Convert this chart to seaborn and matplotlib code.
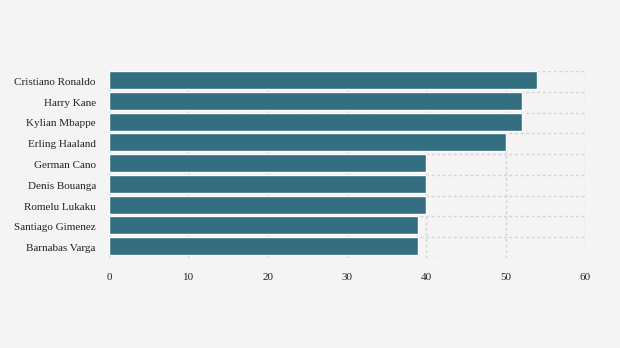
import matplotlib
matplotlib.use("Agg")
import matplotlib.pyplot as plt
import seaborn as sns
import pandas as pd
import numpy as np

players = ["Cristiano Ronaldo", "Harry Kane", "Kylian Mbappe", "Erling Haaland",
           "German Cano", "Denis Bouanga", "Romelu Lukaku", "Santiago Gimenez",
           "Barnabas Varga"]
goals = [54, 52, 52, 50, 40, 40, 40, 39, 39]
xticks = [0, 10, 20, 30, 40, 50, 60]

sns.set_style("white")
plt.rcParams['font.family'] = ['Liberation Serif', 'DejaVu Serif']

df = pd.DataFrame({"player": players, "goals": goals})

fig = plt.figure(figsize=(6.2, 3.48), dpi=100, facecolor="#f4f4f4")
ax = fig.add_axes([109/620, 1-258/348, (585-109)/620, (258-71)/348])
ax.set_facecolor("#f4f4f4")

bw = 0.865
sns.barplot(data=df, x="goals", y="player", orient="h", color="#336f80",
            saturation=1, width=bw, ax=ax, zorder=3)
for p in ax.patches:
    p.set_y(p.get_y() - (1 - bw) / 2)

ax.set_xlim(0, 60)
ax.set_ylim(len(players)-0.5, -0.5)
ax.set_xticks(xticks)
ax.set_xticklabels([str(t) for t in xticks])
ax.set_yticks(np.arange(len(players)))
ax.set_yticks(np.arange(len(players)+1)-0.5, minor=True)
ax.set_xlabel("")
ax.set_ylabel("")

ax.grid(True, axis="x", which="major", color="#d2d2d2", linestyle=(0, (2, 2)), linewidth=1, zorder=0)
ax.grid(True, axis="y", which="minor", color="#d2d2d2", linestyle=(0, (2, 2)), linewidth=1, zorder=0)
ax.grid(False, axis="y", which="major")
for s in ax.spines.values():
    s.set_visible(False)

ax.tick_params(axis="y", which="major", length=5, color="#d6d6d6", pad=4.5, labelsize=8, labelcolor="#222222")
ax.tick_params(axis="y", which="minor", length=0)
ax.tick_params(axis="x", which="major", length=0, pad=10.5, labelsize=8, labelcolor="#222222")

fig.savefig("out.png", dpi=100, facecolor="#f4f4f4")
